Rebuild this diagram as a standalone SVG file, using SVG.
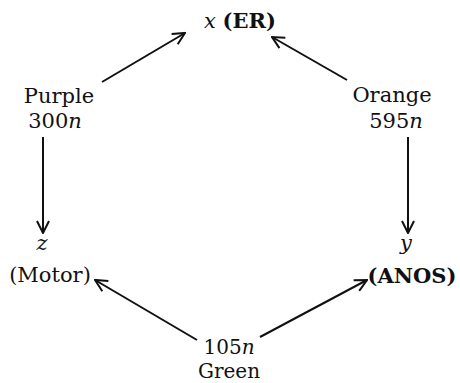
<svg xmlns="http://www.w3.org/2000/svg" width="460" height="383" viewBox="0 0 460 383">
<style>
text{font-family:"DejaVu Serif","Liberation Serif",serif;font-size:21px;fill:#111}
.i{font-style:italic}
.b{font-weight:bold}
.s{font-size:20px}
.c line{stroke:#111;stroke-width:2;marker-end:url(#ah)}
</style>
<defs>
<marker id="ah" viewBox="0 0 14 14" refX="13" refY="7" markerWidth="14" markerHeight="14" markerUnits="userSpaceOnUse" orient="auto">
<path d="M1,1 L13,7 L1,13" fill="none" stroke="#111" stroke-width="2"/>
</marker>
</defs>
<rect width="460" height="383" fill="#fff"/>
<g class="c" id="connectors">
<line x1="102" y1="82" x2="185" y2="33"/>
<line x1="347" y1="80" x2="272" y2="37"/>
<line x1="43" y1="137" x2="43" y2="233"/>
<line x1="408" y1="137" x2="408" y2="233"/>
<line x1="197" y1="340" x2="95" y2="280"/>
<line x1="260" y1="337" x2="367" y2="280"/>
</g>
<g id="er"><text x="204" y="28"><tspan class="i">x</tspan> <tspan class="b">(ER)</tspan></text></g>
<g id="purple"><text x="59" y="103" text-anchor="middle">Purple</text><text x="55" y="128" text-anchor="middle">300<tspan class="i">n</tspan></text></g>
<g id="orange"><text x="392" y="102" text-anchor="middle">Orange</text><text x="396" y="128" text-anchor="middle">595<tspan class="i">n</tspan></text></g>
<g id="motor"><text class="i" x="42" y="250" text-anchor="middle">z</text><text x="50" y="282" text-anchor="middle">(Motor)</text></g>
<g id="anos"><text class="i" x="406" y="250" text-anchor="middle">y</text><text class="b" x="412" y="283" text-anchor="middle">(ANOS)</text></g>
<g id="green"><text class="s" x="229" y="354" text-anchor="middle">105<tspan class="i">n</tspan></text><text class="s" x="229" y="378" text-anchor="middle">Green</text></g>
</svg>
